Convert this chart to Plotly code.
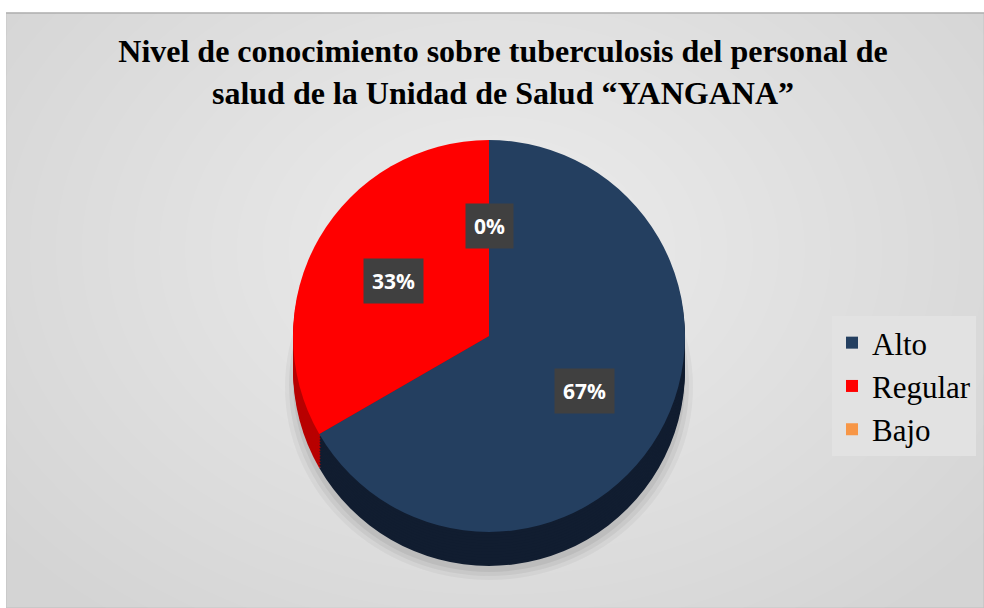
import plotly.graph_objects as go
import math

# ---- data ----
categories = ["Alto", "Regular", "Bajo"]
values = [2, 1, 0]
pct_labels = ["67%", "33%", "0%"]
top_colors = ["#243f60", "#ff0000", "#f79646"]
side_colors = ["#111d30", "#b80000", "#c06a20"]

W, H = 984, 608
cx, cy, R = 489, 336, 196   # pie centre / radius in px
depth = 34

fig = go.Figure()

def domain_for(cy_px):
    return dict(x=[(cx - R) / W, (cx + R) / W],
                y=[1 - (cy_px + R) / H, 1 - (cy_px - R) / H])

# side (depth) layers
steps = 12
for i in range(steps, 0, -1):
    off = depth * i / steps
    fig.add_trace(go.Pie(labels=categories, values=values, sort=False,
                         direction="clockwise", rotation=0,
                         marker=dict(colors=side_colors, line=dict(width=0)),
                         textinfo="none", hoverinfo="skip", showlegend=False,
                         domain=domain_for(cy + off)))

# top face
fig.add_trace(go.Pie(labels=categories, values=values, sort=False,
                     direction="clockwise", rotation=0,
                     marker=dict(colors=top_colors, line=dict(width=0)),
                     textinfo="none", showlegend=True,
                     domain=domain_for(cy)))

# data labels placed from the slice mid-angles
total = sum(values)
cum = 0
for lab, v in zip(pct_labels, values):
    mid = (cum + v / 2) / total * 2 * math.pi
    cum += v
    rr = 0.56 * R
    px = cx + rr * math.sin(mid)
    py = cy - rr * math.cos(mid)
    fig.add_annotation(x=px / W, y=1 - py / H, xref="paper", yref="paper",
                       text=f"<b>{lab}</b>", showarrow=False,
                       font=dict(family="Open Sans", size=21, color="white"),
                       bgcolor="#404040", borderpad=8)

shapes = []
# chart area background with soft radial lightening
shapes.append(dict(type="rect", xref="paper", yref="paper",
                   x0=6 / W, x1=1, y0=0, y1=1 - 13 / H,
                   fillcolor="#d4d4d4", line=dict(color="#bfbfbf", width=1),
                   layer="below"))
nring = 24
for k in range(nring):
    f = 1 - k / nring
    ex, ey = 620 * f, 460 * f
    shapes.append(dict(type="circle", xref="paper", yref="paper",
                       x0=(495 - ex) / W, x1=(495 + ex) / W,
                       y0=1 - (250 + ey) / H, y1=1 - (250 - ey) / H,
                       fillcolor="rgba(255,255,255,0.045)", line=dict(width=0),
                       layer="below"))
# cover overflow outside chart area (white margins)
shapes.append(dict(type="rect", xref="paper", yref="paper", x0=0, x1=6 / W,
                   y0=0, y1=1, fillcolor="white", line=dict(width=0), layer="below"))
shapes.append(dict(type="rect", xref="paper", yref="paper", x0=0, x1=1,
                   y0=1 - 12.5 / H, y1=1, fillcolor="white", line=dict(width=0), layer="below"))
shapes.append(dict(type="line", xref="paper", yref="paper", x0=6 / W, x1=1,
                   y0=1 - 13 / H, y1=1 - 13 / H, line=dict(color="#b0b0b0", width=1.5),
                   layer="below"))
# soft shadow under the pie
for s, a in [(12, 0.04), (8, 0.05), (4, 0.06)]:
    shapes.append(dict(type="circle", xref="paper", yref="paper",
                       x0=(cx - R - s + 4) / W, x1=(cx + R + s - 4) / W,
                       y0=1 - (cy + depth + R + s + 2) / H, y1=1 - (cy + depth - R + 20) / H,
                       fillcolor=f"rgba(0,0,0,{a})", line=dict(width=0), layer="below"))

fig.update_layout(
    width=W, height=H,
    margin=dict(l=0, r=0, t=0, b=0),
    paper_bgcolor="white",
    shapes=shapes,
    title=dict(text="<b>Nivel de conocimiento sobre tuberculosis del personal de<br>salud de la Unidad de Salud “YANGANA”</b>",
               x=503 / W, xanchor="center", y=1 - 62 / H, yanchor="top",
               font=dict(family="Liberation Serif", size=32, color="black")),
    legend=dict(x=832 / W, xanchor="left", y=1 - 316 / H, yanchor="top",
                bgcolor="#e2e2e2", font=dict(family="Liberation Serif", size=31, color="black"),
                traceorder="normal", itemsizing="constant", borderwidth=0),
)

fig.write_html("out.html", post_script="document.body.style.margin='0';",
               config={"displayModeBar": False})
